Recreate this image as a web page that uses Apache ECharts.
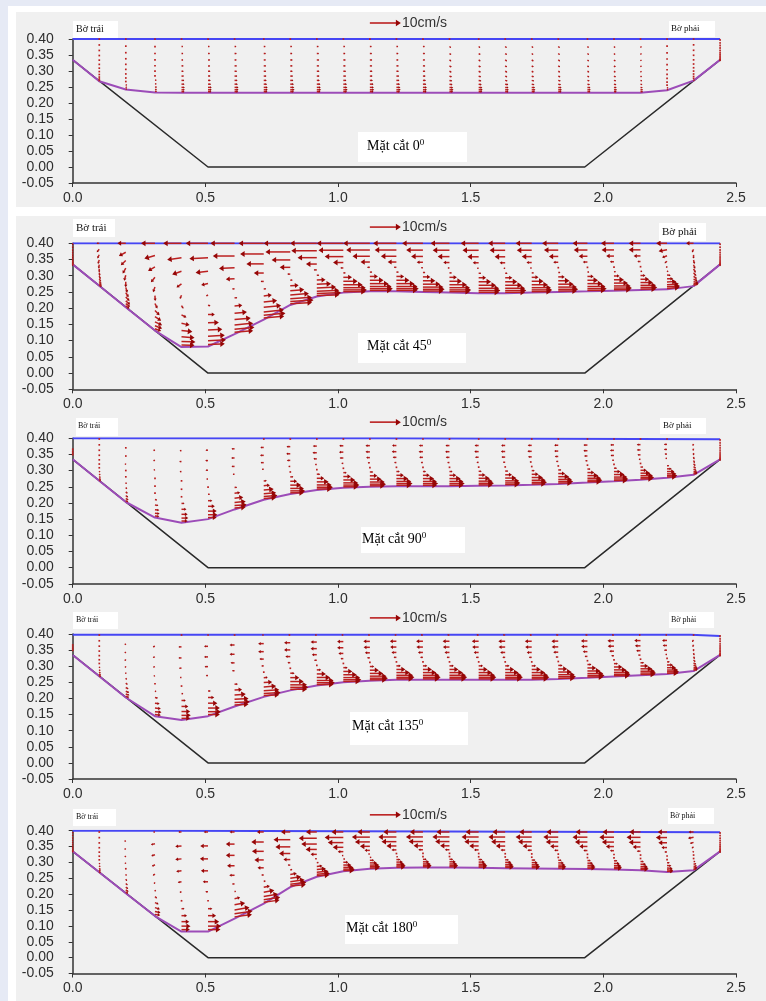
<!DOCTYPE html>
<html><head><meta charset="utf-8">
<script src="https://cdn.jsdelivr.net/npm/echarts@6/dist/echarts.min.js"></script>
<style>
html,body{margin:0;padding:0;width:766px;height:1001px;overflow:hidden;background:#fff;}
#bgL{position:absolute;left:0;top:0;width:8px;height:1001px;background:#e6eaf5;}
#bgT{position:absolute;left:0;top:0;width:766px;height:6px;background:#e6eaf5;}
.pn{position:absolute;left:16px;width:750px;background:#f0f0f0;}
#chart{position:absolute;left:0;top:0;width:766px;height:1001px;}
</style></head><body>
<div id="bgL"></div><div id="bgT"></div>
<div class="pn" style="top:12px;height:195px"></div>
<div class="pn" style="top:216px;height:785px"></div>
<div id="chart"></div>
<script>
// ---------- shared geometry ----------
const xCols = [0,0.10,0.20,0.31,0.41,0.51,0.61,0.72,0.82,0.92,1.02,1.12,1.22,1.32,1.42,1.53,1.63,1.73,1.83,1.94,2.04,2.14,2.24,2.34,2.44];
const sigmaLevels = [1.00,0.86,0.73,0.61,0.50,0.40,0.31,0.23,0.16,0.10,0.055,0.02];
const channel = [[0,0.335],[0.51,0],[1.93,0],[2.44,0.335]];
const refSpeed = 10;      // cm/s of the reference arrow
const refLenX = 0.117;    // x-axis units spanned by the 10 cm/s arrow
const refArrow = [[1.12, 0.45, 10, 0]];
const angles = ['0','45','90','135','180'];

// ---------- panel 1 : 0 deg ----------
const surf1 = [[0,0.40],[2.44,0.40]];
const top1 = 0.40;
const bed1 = [0.335,0.268,0.242,0.233,0.232,0.232,0.232,0.232,0.232,0.232,0.232,0.232,0.232,0.232,0.232,0.232,0.232,0.232,0.232,0.232,0.232,0.232,0.240,0.270,0.335];
const u1 = [
[0,0,0,0,0,0,0,0,0,0,0,0],
[0,0,0,0,0,0,0,0,0,0,0,0],
[0.1,0.1,0.1,0.1,0.1,0.1,0.2,0.2,0.2,0.3,0.3,0.3],
[0.2,0.3,0.3,0.3,0.3,0.4,0.4,0.5,0.5,0.6,0.6,0.6],
[0.2,0.5,0.6,0.6,0.7,0.7,0.8,0.9,1.0,1.1,1.1,1.0],
[0.2,0.5,0.6,0.7,0.7,0.8,0.8,0.9,1.0,1.2,1.2,1.1],
[0.2,0.6,0.7,0.7,0.8,0.8,0.9,1.0,1.1,1.3,1.3,1.2],
[0.2,0.6,0.7,0.7,0.8,0.8,0.9,1.0,1.1,1.3,1.3,1.2],
[0.2,0.6,0.7,0.8,0.8,0.8,0.9,1.0,1.2,1.3,1.4,1.2],
[0.2,0.6,0.7,0.8,0.8,0.9,0.9,1.0,1.2,1.3,1.4,1.2],
[0.2,0.6,0.7,0.8,0.8,0.9,0.9,1.0,1.2,1.3,1.4,1.2],
[0.2,0.6,0.7,0.8,0.8,0.9,0.9,1.0,1.2,1.3,1.4,1.2],
[0.2,0.6,0.7,0.7,0.8,0.8,0.9,1.0,1.2,1.3,1.4,1.2],
[0.2,0.6,0.7,0.7,0.8,0.8,0.9,1.0,1.1,1.3,1.3,1.2],
[0.2,0.5,0.6,0.6,0.7,0.7,0.8,0.9,1.0,1.2,1.3,1.2],
[0.2,0.5,0.6,0.6,0.7,0.7,0.8,0.9,1.0,1.2,1.3,1.2],
[0.2,0.5,0.6,0.6,0.6,0.7,0.7,0.8,1.0,1.1,1.2,1.1],
[0.2,0.5,0.5,0.6,0.6,0.6,0.7,0.8,0.9,1.1,1.2,1.1],
[0.2,0.5,0.5,0.6,0.6,0.6,0.7,0.8,0.9,1.1,1.2,1.1],
[0.2,0.4,0.5,0.5,0.5,0.6,0.6,0.7,0.8,1.0,1.1,1.0],
[0.2,0.4,0.4,0.5,0.5,0.5,0.6,0.7,0.8,0.9,1.0,0.9],
[0.1,0.3,0.3,0.3,0.3,0.3,0.4,0.5,0.6,0.7,0.8,0.8],
[0,0.1,0.1,0.1,0.1,0.1,0.1,0.1,0.2,0.2,0.3,0.3],
[0,0,0,0,0,0,0,0,0,0,0.2,0.3],
[0,0,0,0,0,0,0,0,0,0,0,0]];
const v1 = [
null,
[-0.3,-0.3,-0.3,-0.3,-0.3,-0.3,-0.3,-0.3,-0.3,-0.3,-0.3,-0.3],
[0,-0.3,-0.3,-0.3,-0.3,-0.3,-0.3,-0.3,-0.3,-0.3,-0.3,-0.3],
null,null,null,null,null,null,null,null,null,null,null,
[0,-0.4,-0.4,-0.4,-0.4,-0.3,-0.3,-0.2,-0.2,-0.1,0,0],
[0,-0.4,-0.4,-0.4,-0.4,-0.3,-0.3,-0.2,-0.2,-0.1,0,0],
[0,-0.4,-0.4,-0.4,-0.4,-0.3,-0.3,-0.2,-0.2,-0.1,0,0],
[0,-0.4,-0.4,-0.4,-0.4,-0.3,-0.3,-0.2,-0.2,-0.1,0,0],
[0,-0.4,-0.4,-0.4,-0.4,-0.3,-0.3,-0.2,-0.2,-0.1,0,0],
[0,-0.4,-0.4,-0.4,-0.4,-0.3,-0.3,-0.2,-0.2,-0.1,0,0],
[0,-0.4,-0.4,-0.4,-0.4,-0.3,-0.3,-0.2,-0.2,-0.1,0,0],
[0,-0.3,-0.3,-0.3,-0.3,-0.3,-0.3,-0.2,-0.2,-0.1,0,0],
[-0.3,-0.3,-0.3,-0.3,-0.3,-0.3,-0.3,-0.3,-0.3,-0.3,-0.3,-0.3],
[-0.3,-0.3,-0.3,-0.3,-0.3,-0.3,-0.3,-0.3,-0.3,-0.3,-0.3,-0.3],
[-0.7,-0.7,-0.7,-0.7,-0.7,-0.7,-0.7,-0.7,-0.7,-0.7,-0.7,-0.7]];

// ---------- panel 2 : 45 deg ----------
const surf2 = [[0,0.40],[2.44,0.40]];
const top2 = 0.40;
const bed2 = [0.335,0.269,0.203,0.131,0.080,0.082,0.120,0.165,0.210,0.236,0.248,0.252,0.252,0.250,0.248,0.246,0.246,0.248,0.250,0.252,0.254,0.256,0.258,0.268,0.335];
const u2 = [
[0,0,0,0,0,0,0,0,0,0,0,0],
[-0.9,-0.8,-0.6,-0.4,-0.2,0,0.2,0.4,0.6,0.7,0.8,0.8],
[-2.7,-2.2,-1.6,-1.0,-0.5,0,0.5,0.9,1.2,1.4,1.4,1.2],
[-4.5,-3.4,-2.2,-1.3,-0.6,0.1,0.8,1.5,2.0,2.3,2.3,2.0],
[-5.9,-4.6,-3.0,-1.6,-0.5,0.6,1.6,2.6,3.5,4.2,4.5,4.2],
[-7.2,-6.0,-4.0,-2.2,-0.6,0.8,2.2,3.5,4.6,5.4,5.8,5.4],
[-7.8,-7.0,-5.0,-2.8,-0.8,0.9,2.5,4.0,5.2,6.0,6.4,6.0],
[-8.1,-7.6,-5.6,-3.2,-1.0,0.8,2.6,4.3,5.6,6.5,7.0,6.6],
[-8.6,-8.0,-6.0,-3.4,-1.0,0.8,2.7,4.5,6.0,7.0,7.5,7.0],
[-8.6,-8.2,-6.2,-3.5,-1.0,0.8,2.8,4.6,6.2,7.2,7.8,7.3],
[-8.6,-8.0,-6.0,-3.3,-1.0,0.8,2.8,4.6,6.2,7.2,7.6,7.2],
[-8.6,-7.6,-5.6,-3.0,-0.9,0.8,2.6,4.4,6.0,7.0,7.4,7.0],
[-7.5,-7.0,-5.0,-2.8,-0.8,0.8,2.5,4.2,5.8,6.8,7.2,6.8],
[-6.7,-5.4,-3.8,-2.0,-0.6,0.8,2.4,4.0,5.6,6.6,7.0,6.6],
[-6.1,-5.4,-3.8,-2.0,-0.6,0.8,2.4,4.0,5.6,6.6,7.0,6.6],
[-5.8,-5.2,-3.6,-1.9,-0.5,0.8,2.4,4.0,5.6,6.6,7.0,6.6],
[-5.5,-5.0,-3.4,-1.8,-0.5,0.8,2.3,3.9,5.4,6.4,6.8,6.4],
[-5.2,-4.8,-3.2,-1.7,-0.5,0.7,2.2,3.8,5.2,6.2,6.6,6.2],
[-5.2,-4.6,-3.0,-1.6,-0.4,0.7,2.1,3.6,5.0,6.0,6.4,6.0],
[-4.8,-4.4,-2.8,-1.5,-0.4,0.6,2.0,3.4,4.8,5.8,6.2,5.8],
[-4.2,-4.0,-2.5,-1.3,-0.3,0.6,1.8,3.2,4.5,5.4,5.8,5.4],
[-3.8,-3.8,-2.2,-1.0,-0.2,0.6,1.6,2.8,4.0,5.0,5.4,5.0],
[-3.5,-2.7,-1.6,-0.8,-0.2,0.4,1.2,2.0,3.0,3.8,4.2,4.0],
[-2.4,-0.5,0,0.3,0.5,0.7,0.9,1.1,1.3,1.5,1.6,1.6],
[0,0,0,0,0,0,0,0,0,0,0,0]];
const v2 = [
[-0.7,-0.7,-0.7,-0.7,-0.7,-0.7,-0.7,-0.7,-0.7,-0.7,-0.7,-0.7],
[0,-1.0,-1.2,-1.3,-1.3,-1.2,-1.1,-1.0,-0.9,-0.8,-0.7,-0.6],
[0,-1.2,-1.5,-1.7,-1.8,-1.8,-1.7,-1.5,-1.3,-1.2,-1.0,-0.8],
[0,-1.0,-1.3,-1.6,-1.7,-1.7,-1.6,-1.5,-1.3,-1.1,-0.9,-0.7],
[0,-0.6,-1.0,-1.2,-1.2,-1.0,-0.8,-0.6,-0.4,-0.3,-0.2,-0.1],
[0,-0.3,-0.5,-0.5,-0.4,-0.2,0,0.1,0.2,0.3,0.3,0.2],
[0,0,-0.2,-0.2,-0.1,0,0.2,0.4,0.5,0.6,0.6,0.5],
[0,0,0,0,0,0.1,0.3,0.5,0.6,0.7,0.7,0.6],
[0,0,0,0,0,0.1,0.2,0.4,0.5,0.5,0.5,0.4],
[0,0,0,0,0,0,0.1,0.2,0.3,0.3,0.3,0.2],
null,null,null,null,null,null,null,null,null,null,null,null,
[0,-0.5,-0.6,-0.6,-0.5,-0.3,-0.1,0,0.2,0.3,0.3,0.3],
[0,-1.0,-1.2,-1.3,-1.3,-1.2,-1.0,-0.8,-0.5,-0.2,0.2,0.5],
[-0.7,-0.7,-0.7,-0.7,-0.7,-0.7,-0.7,-0.7,-0.7,-0.7,-0.7,-0.7]];

// ---------- panel 3 : 90 deg ----------
const surf3 = [[0,0.40],[1.17,0.40],[1.17,0.397],[2.44,0.397]];
const top3 = 0.398;
const bed3 = [0.335,0.269,0.203,0.155,0.139,0.150,0.180,0.210,0.228,0.240,0.247,0.250,0.252,0.252,0.252,0.253,0.254,0.256,0.259,0.263,0.267,0.272,0.278,0.287,0.335];
const u3 = [
[0,0,0,0,0,0,0,0,0,0,0,0],
[0,0,0,0,0,0,0.1,0.2,0.3,0.4,0.5,0.5],
[0,-0.2,-0.2,-0.2,-0.1,0,0.2,0.4,0.6,0.8,0.9,0.8],
[0,-0.5,-0.5,-0.4,-0.3,-0.1,0.3,0.7,1.1,1.4,1.5,1.4],
[0,-0.6,-0.7,-0.6,-0.4,-0.1,0.4,1.0,1.6,2.0,2.2,2.0],
[0,-0.8,-0.9,-0.8,-0.5,-0.1,0.6,1.4,2.2,2.8,3.0,2.8],
[0,-1.0,-1.1,-1.0,-0.6,0,0.8,1.8,2.8,3.6,3.9,3.6],
[-0.2,-1.1,-1.2,-1.0,-0.6,0,1.0,2.0,3.2,4.0,4.4,4.0],
[-0.2,-1.2,-1.3,-1.1,-0.6,0.1,1.0,2.2,3.5,4.4,4.8,4.4],
[-0.3,-1.3,-1.4,-1.1,-0.6,0.1,1.1,2.4,3.8,4.8,5.2,4.8],
[-0.3,-1.3,-1.4,-1.2,-0.6,0.1,1.1,2.4,3.8,4.8,5.2,4.8],
[-0.3,-1.4,-1.4,-1.2,-0.7,0.1,1.1,2.4,3.8,4.8,5.2,4.8],
[-0.3,-1.4,-1.5,-1.2,-0.7,0.1,1.1,2.4,3.8,4.8,5.2,4.8],
[-0.3,-1.3,-1.4,-1.2,-0.7,0.1,1.0,2.2,3.6,4.5,4.9,4.5],
[-0.3,-1.3,-1.4,-1.2,-0.7,0.1,1.0,2.2,3.6,4.5,4.9,4.5],
[-0.3,-1.3,-1.4,-1.2,-0.7,0.1,1.0,2.2,3.6,4.5,4.9,4.5],
[-0.3,-1.3,-1.4,-1.2,-0.7,0.1,1.0,2.2,3.6,4.5,4.9,4.5],
[-0.3,-1.3,-1.4,-1.2,-0.7,0.1,1.0,2.2,3.6,4.5,4.9,4.5],
[-0.3,-1.3,-1.3,-1.1,-0.7,0.1,1.0,2.2,3.5,4.4,4.8,4.4],
[-0.3,-1.3,-1.3,-1.1,-0.7,0.1,1.0,2.2,3.5,4.4,4.8,4.4],
[-0.3,-1.2,-1.3,-1.1,-0.6,0.1,1.0,2.1,3.4,4.3,4.6,4.3],
[-0.3,-1.2,-1.2,-1.0,-0.6,0.1,0.9,2.0,3.2,4.0,4.4,4.0],
[-0.2,-1.0,-1.0,-0.8,-0.5,0,0.7,1.5,2.4,3.0,3.3,3.0],
[0,-0.3,-0.2,0,0.2,0.4,0.6,0.8,1.0,1.2,1.3,1.2],
[0,0,0,0,0,0,0,0,0,0,0,0]];
const v3 = [
[0,0,0,0,-0.4,-0.4,-0.4,-0.4,0,0,0,0],
[-0.3,-0.3,-0.3,-0.3,-0.3,-0.3,-0.4,-0.4,-0.4,-0.4,-0.5,-0.5],
[0,-0.3,-0.3,-0.4,-0.4,-0.4,-0.5,-0.5,-0.5,-0.5,-0.5,-0.4],
[0,-0.2,-0.2,-0.2,-0.2,-0.2,-0.2,-0.2,-0.2,-0.2,-0.2,-0.2],
null,null,
[0,0,0,0,0,0,0.1,0.2,0.3,0.3,0.3,0.3],
[0,0,0,0,0,0,0.1,0.2,0.3,0.3,0.3,0.3],
null,null,null,null,null,null,null,null,null,null,null,null,null,null,null,
[0,-0.6,-0.7,-0.8,-0.8,-0.8,-0.7,-0.6,-0.5,-0.3,0,0.3],
[-0.7,-0.7,-0.7,-0.7,-0.7,-0.7,-0.7,-0.7,-0.7,-0.7,-0.7,-0.7]];

// ---------- panel 4 : 135 deg ----------
const surf4 = [[0,0.398],[2.33,0.398],[2.33,0.394],[2.44,0.394]];
const top4 = 0.397;
const bed4 = [0.335,0.269,0.203,0.145,0.133,0.145,0.175,0.205,0.225,0.240,0.250,0.255,0.258,0.258,0.258,0.258,0.258,0.258,0.260,0.264,0.268,0.272,0.276,0.285,0.335];
const u4 = [
[0,0,0,0,0,0,0,0,0,0,0,0],
[0,0,0,0,0,0,0.1,0.2,0.3,0.4,0.5,0.5],
[0,-0.3,-0.3,-0.3,-0.2,0,0.3,0.6,0.9,1.1,1.2,1.1],
[0,-0.7,-0.7,-0.6,-0.4,-0.1,0.4,1.0,1.5,1.9,2.1,1.9],
[-0.2,-1.0,-1.0,-0.8,-0.5,-0.1,0.6,1.4,2.2,2.8,3.0,2.8],
[-0.3,-1.3,-1.3,-1.1,-0.7,0,0.9,2.0,3.0,3.8,4.1,3.8],
[-0.4,-1.6,-1.6,-1.3,-0.8,0,1.1,2.4,3.6,4.5,4.9,4.5],
[-0.5,-1.8,-1.8,-1.4,-0.8,0.1,1.3,2.7,4.0,5.0,5.4,5.0],
[-0.6,-2.0,-2.0,-1.6,-0.9,0.1,1.4,2.9,4.3,5.4,5.8,5.4],
[-0.6,-2.0,-2.0,-1.6,-0.9,0.1,1.4,2.9,4.3,5.4,5.8,5.4],
[-0.6,-2.0,-2.0,-1.6,-0.9,0.1,1.4,2.9,4.3,5.4,5.8,5.4],
[-0.6,-2.1,-2.0,-1.6,-0.9,0.1,1.4,2.9,4.3,5.4,5.8,5.4],
[-0.6,-2.1,-2.0,-1.6,-0.9,0.1,1.4,2.9,4.3,5.4,5.8,5.4],
[-0.7,-2.2,-2.1,-1.6,-0.9,0.1,1.4,2.9,4.3,5.3,5.7,5.3],
[-0.7,-2.2,-2.1,-1.6,-0.9,0.1,1.4,2.9,4.3,5.3,5.7,5.3],
[-0.7,-2.2,-2.1,-1.6,-0.9,0.1,1.4,2.9,4.3,5.3,5.7,5.3],
[-0.7,-2.2,-2.1,-1.6,-0.9,0.1,1.4,2.9,4.3,5.3,5.7,5.3],
[-0.7,-2.2,-2.1,-1.6,-0.9,0.1,1.4,2.9,4.3,5.3,5.7,5.3],
[-0.7,-2.2,-2.1,-1.6,-0.9,0.1,1.4,2.9,4.3,5.3,5.7,5.3],
[-0.7,-2.1,-2.0,-1.5,-0.9,0.1,1.3,2.8,4.2,5.1,5.5,5.1],
[-0.7,-2.1,-2.0,-1.5,-0.9,0.1,1.3,2.7,4.0,5.0,5.3,5.0],
[-0.6,-2.0,-1.8,-1.4,-0.8,0.1,1.2,2.5,3.8,4.7,5.0,4.7],
[-0.5,-1.6,-1.4,-1.0,-0.5,0.1,0.9,1.9,2.9,3.6,3.9,3.6],
[-0.2,-0.5,-0.3,0,0.2,0.4,0.6,0.9,1.1,1.3,1.4,1.3],
[0,0,0,0,0,0,0,0,0,0,0,0]];
const v4 = [
[0,0,0,0,-0.4,-0.4,-0.4,-0.4,0,0,0,0],
[-0.3,-0.3,-0.3,-0.3,-0.3,-0.3,-0.4,-0.4,-0.4,-0.4,-0.5,-0.5],
[0,-0.4,-0.4,-0.5,-0.5,-0.5,-0.5,-0.5,-0.5,-0.5,-0.4,-0.4],
[0,-0.2,-0.2,-0.2,-0.2,-0.2,-0.2,-0.2,-0.2,-0.2,-0.2,-0.2],
null,null,
[0,0,0,0,0,0,0.1,0.2,0.3,0.3,0.3,0.3],
[0,0,0,0,0,0,0.1,0.2,0.3,0.3,0.3,0.3],
null,null,null,null,null,null,null,null,null,null,null,null,null,null,null,
[0,-0.6,-0.7,-0.8,-0.8,-0.8,-0.7,-0.6,-0.4,-0.2,0.1,0.3],
[-0.7,-0.7,-0.7,-0.7,-0.7,-0.7,-0.7,-0.7,-0.7,-0.7,-0.7,-0.7]];

// ---------- panel 5 : 180 deg ----------
const surf5 = [[0,0.40],[0.37,0.40],[0.37,0.395],[2.44,0.395]];
const top5 = 0.396;
const bed5 = [0.335,0.269,0.203,0.131,0.082,0.082,0.123,0.170,0.222,0.255,0.272,0.280,0.283,0.284,0.284,0.283,0.282,0.281,0.280,0.279,0.278,0.275,0.270,0.275,0.335];
const u5 = [
[0,0,0,0,0,0,0,0,0,0,0,0],
[0,-0.2,-0.2,-0.1,0,0,0.1,0.2,0.3,0.4,0.4,0.4],
[0,-0.4,-0.4,-0.3,-0.2,0,0.2,0.4,0.6,0.8,0.9,0.8],
[-0.5,-1.3,-1.2,-1.0,-0.7,-0.3,0.2,0.7,1.2,1.6,1.8,1.7],
[-1.0,-2.0,-2.0,-1.7,-1.2,-0.6,0.2,1.0,1.8,2.5,2.9,2.7],
[-1.4,-2.5,-2.6,-2.3,-1.7,-0.9,0.2,1.4,2.6,3.6,4.2,4.0],
[-1.6,-2.8,-2.8,-2.4,-1.7,-0.8,0.4,1.8,3.4,4.8,5.8,5.6],
[-2.2,-4.0,-3.8,-3.0,-2.0,-0.8,0.6,2.0,3.4,4.6,5.3,5.1],
[-3.0,-5.4,-4.8,-3.6,-2.2,-0.8,0.7,2.1,3.5,4.6,5.2,5.0],
[-3.5,-5.8,-5.0,-3.6,-2.0,-0.6,0.6,1.8,2.9,3.8,4.2,4.0],
[-3.8,-6.0,-5.0,-3.4,-1.8,-0.5,0.6,1.6,2.6,3.3,3.7,3.5],
[-4.0,-5.8,-4.8,-3.2,-1.7,-0.5,0.5,1.4,2.3,3.0,3.3,3.1],
[-4.2,-5.8,-4.8,-3.2,-1.6,-0.4,0.5,1.3,2.1,2.7,3.0,2.8],
[-4.2,-5.5,-4.6,-3.0,-1.5,-0.4,0.4,1.2,2.0,2.5,2.8,2.6],
[-4.2,-5.5,-4.6,-3.0,-1.5,-0.4,0.4,1.2,2.0,2.5,2.8,2.6],
[-4.2,-5.5,-4.6,-3.0,-1.5,-0.4,0.4,1.2,2.0,2.5,2.8,2.6],
[-4.1,-5.4,-4.5,-3.0,-1.5,-0.4,0.4,1.2,2.0,2.5,2.8,2.6],
[-4.0,-5.2,-4.4,-2.9,-1.4,-0.4,0.4,1.2,1.9,2.4,2.7,2.5],
[-3.8,-4.8,-4.0,-2.6,-1.3,-0.3,0.4,1.1,1.8,2.3,2.6,2.4],
[-3.8,-4.8,-4.0,-2.6,-1.3,-0.3,0.4,1.1,1.8,2.3,2.6,2.4],
[-3.7,-4.7,-3.9,-2.6,-1.3,-0.3,0.4,1.1,1.8,2.3,2.6,2.4],
[-3.6,-4.5,-3.8,-2.5,-1.2,-0.3,0.4,1.1,1.8,2.3,2.6,2.4],
[-3.0,-3.6,-2.8,-1.8,-0.9,-0.2,0.3,0.9,1.4,1.8,2.0,1.9],
[-1.6,-1.8,-1.2,-0.6,-0.2,0.1,0.3,0.6,0.9,1.1,1.2,1.1],
[0,0,0,0,0,0,0,0,0,0,0,0]];
const v5 = [
[-0.5,-0.5,-0.5,-0.5,-0.5,-0.5,-0.5,-0.5,-0.5,-0.5,-0.5,-0.5],
[-0.3,-0.3,-0.3,-0.3,-0.3,-0.3,-0.4,-0.4,-0.4,-0.5,-0.5,-0.5],
[0,-0.3,-0.3,-0.4,-0.4,-0.4,-0.5,-0.6,-0.6,-0.6,-0.6,-0.5],
[0,-0.3,-0.4,-0.5,-0.5,-0.5,-0.5,-0.5,-0.5,-0.5,-0.4,-0.3],
[0,-0.2,-0.2,-0.2,-0.2,-0.2,-0.1,0,0,0,0,0],
null,
[0,0,0,0,0,0,0.2,0.4,0.6,0.8,0.9,0.8],
[0,0,0,0,0,0,0.2,0.4,0.6,0.8,0.8,0.7],
[0,0,0,0,0,0,0.2,0.4,0.5,0.6,0.6,0.5],
[0,0,0,0,0,0,0.1,0.2,0.3,0.3,0.3,0.3],
null,null,null,null,null,null,null,null,null,null,null,null,
[0,0,0,0,0,0,0,0,-0.1,-0.2,-0.2,-0.2],
[0,-0.3,-0.4,-0.4,-0.4,-0.3,-0.2,0,0.2,0.3,0.4,0.4],
[-0.7,-0.7,-0.7,-0.7,-0.7,-0.7,-0.7,-0.7,-0.7,-0.7,-0.7,-0.7]];

// ---------- layout (pixels) ----------
const gridTop = [39, 243.3, 438.3, 634, 830.7];
const gridH   = [144, 146, 145.5, 145, 142.8];
const boxes = [
  {bt:[73,21,45,17,10,76,29.5], bp:[669,21,46,16,9,671,28.5], mc:[358,132,109,30,367,146]},
  {bt:[73,219,42,18,11,76,228],  bp:[659,223,47,18,11,662,232], mc:[358,333,108,30,367,346]},
  {bt:[76,418,42,18,8,78,426],   bp:[660,418,46,16,9,663,426], mc:[361,527,104,26,362,539]},
  {bt:[73,612,45,17,8,76,620],   bp:[669,612,45,16,8,671,620], mc:[350,712,118,33,352,726]},
  {bt:[73,809,43,17,8,76,817],   bp:[668,808,46,16,8,670,816], mc:[345,915,113,29,346,928]}
];

const panels = [
  {bed:bed1, surf:surf1, top:top1, U:u1, V:v1},
  {bed:bed2, surf:surf2, top:top2, U:u2, V:v2},
  {bed:bed3, surf:surf3, top:top3, U:u3, V:v3},
  {bed:bed4, surf:surf4, top:top4, U:u4, V:v4},
  {bed:bed5, surf:surf5, top:top5, U:u5, V:v5}
];

function buildVec(p){
  const out = [];
  for (let i = 0; i < xCols.length; i++){
    const d = p.top - p.bed[i];
    for (let j = 0; j < sigmaLevels.length; j++){
      const u = p.U[i][j], v = p.V[i] ? p.V[i][j] : 0;
      if (u === 0 && v === 0) continue;
      out.push([xCols[i], p.bed[i] + sigmaLevels[j]*d, u, v]);
    }
  }
  return out;
}

const RED = '#bb2020', HEAD = '#960606';
function arrowShape(p0, dx, dy, lw, hmax){
  const len = Math.hypot(dx, dy);
  if (len < 1.3){
    return {type:'rect', shape:{x:p0[0]-0.8, y:p0[1]-0.8, width:1.7, height:1.7}, style:{fill:RED}};
  }
  const ux = dx/len, uy = dy/len;
  const h = Math.min(hmax, len*0.45), w = h*0.65;
  const p1 = [p0[0]+dx, p0[1]+dy];
  const b = [p1[0]-ux*h, p1[1]-uy*h];
  return {type:'group', children:[
    {type:'line', shape:{x1:p0[0], y1:p0[1], x2:b[0]+ux*0.5, y2:b[1]+uy*0.5}, style:{stroke:RED, lineWidth:lw}},
    {type:'polygon', shape:{points:[p1,[b[0]-uy*w, b[1]+ux*w],[b[0]+uy*w, b[1]-ux*w]]}, style:{fill:HEAD}}
  ]};
}
function pxPerCm(api){
  return (api.coord([refLenX,0])[0] - api.coord([0,0])[0]) / refSpeed;
}
function renderVec(params, api){
  const p0 = api.coord([api.value(0), api.value(1)]);
  const k = pxPerCm(api);
  return arrowShape(p0, api.value(2)*k, -api.value(3)*k, 1.5, 4.5);
}
function renderRef(params, api){
  const p0 = api.coord([api.value(0), api.value(1)]);
  const k = pxPerCm(api);
  const dx = api.value(2)*k;
  const a = arrowShape(p0, dx, 0, 1.6, 5);
  return {type:'group', children:[a,
    {type:'text', x:p0[0]+dx+1, y:p0[1], style:{text: api.value(2) + 'cm/s', fill:'#333', font:'14px "Liberation Sans", Arial, sans-serif', verticalAlign:'middle', align:'left'}}]};
}

const grid = [], xAxis = [], yAxis = [], series = [], graphic = [];
panels.forEach((p, k) => {
  grid.push({left:72.7, right:30, top:gridTop[k], height:gridH[k], containLabel:false});
  xAxis.push({type:'value', gridIndex:k, min:0, max:2.5, interval:0.5,
    axisLine:{show:true, onZero:false, lineStyle:{color:'#333', width:1.5}},
    axisTick:{show:true, length:4, lineStyle:{color:'#333'}},
    splitLine:{show:false},
    axisLabel:{margin:8, color:'#2e2e2e', fontSize:14, fontFamily:'Liberation Sans', formatter:v=>v.toFixed(1)}});
  yAxis.push({type:'value', gridIndex:k, min:-0.05, max:0.40, interval:0.05,
    axisLine:{show:true, onZero:false, lineStyle:{color:'#333', width:1.5}},
    axisTick:{show:true, length:4, lineStyle:{color:'#333'}},
    splitLine:{show:false},
    axisLabel:{margin:19, color:'#2e2e2e', fontSize:14, fontFamily:'Liberation Sans', formatter:v=>v.toFixed(2)}});
  series.push({type:'line', xAxisIndex:k, yAxisIndex:k, data:channel, symbol:'none', silent:true, z:2,
    lineStyle:{color:'#2a2a2a', width:1.5}});
  series.push({type:'line', xAxisIndex:k, yAxisIndex:k, data:xCols.map((x,i)=>[x,p.bed[i]]), symbol:'none', silent:true, z:3,
    lineStyle:{color:'#9c4cb8', width:2}});
  series.push({type:'line', xAxisIndex:k, yAxisIndex:k, data:p.surf, symbol:'none', silent:true, z:3,
    lineStyle:{color:'#4646f4', width:2}});
  series.push({type:'custom', xAxisIndex:k, yAxisIndex:k, data:buildVec(p), renderItem:renderVec, silent:true, z:5,
    encode:{x:0, y:1}});
  series.push({type:'custom', xAxisIndex:k, yAxisIndex:k, data:refArrow, renderItem:renderRef, silent:true, clip:false, z:5,
    encode:{x:0, y:1}});
  const b = boxes[k];
  graphic.push({type:'rect', left:b.bt[0], top:b.bt[1], shape:{width:b.bt[2], height:b.bt[3]}, style:{fill:'#fff'}, z:10});
  graphic.push({type:'text', x:b.bt[5], y:b.bt[6], style:{text:'Bờ trái', fill:'#111', font:b.bt[4]+'px "Liberation Serif", serif', verticalAlign:'middle'}, z:11});
  graphic.push({type:'rect', left:b.bp[0], top:b.bp[1], shape:{width:b.bp[2], height:b.bp[3]}, style:{fill:'#fff'}, z:10});
  graphic.push({type:'text', x:b.bp[5], y:b.bp[6], style:{text:'Bờ phải', fill:'#111', font:b.bp[4]+'px "Liberation Serif", serif', verticalAlign:'middle'}, z:11});
  graphic.push({type:'rect', left:b.mc[0], top:b.mc[1], shape:{width:b.mc[2], height:b.mc[3]}, style:{fill:'#fff'}, z:10});
  graphic.push({type:'text', x:b.mc[4], y:b.mc[5], z:11, style:{
    text:'{a|Mặt cắt ' + angles[k] + '}{s|0}', verticalAlign:'middle',
    rich:{a:{fontSize:14, fontFamily:'Liberation Serif', color:'#111', lineHeight:16},
          s:{fontSize:9, fontFamily:'Liberation Serif', color:'#111', lineHeight:16, verticalAlign:'top', padding:[0,0,6,0]}}}});
});

const chart = echarts.init(document.getElementById('chart'), null, {renderer:'canvas'});
chart.setOption({animation:false, backgroundColor:'transparent', grid, xAxis, yAxis, series, graphic});
</script>
</body></html>
